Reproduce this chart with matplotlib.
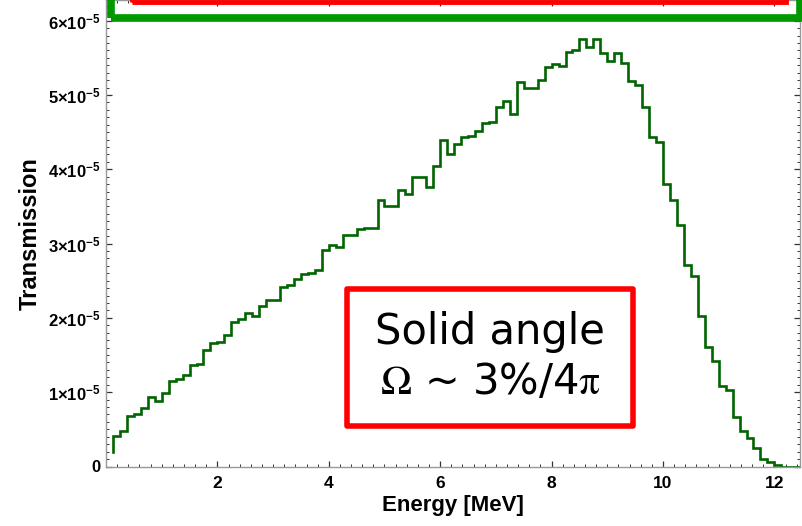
import numpy as np
import matplotlib
matplotlib.use('Agg')
import matplotlib.pyplot as plt
from matplotlib.ticker import MultipleLocator, FuncFormatter
from matplotlib.patches import Rectangle

plt.rcParams['font.family'] = ['Liberation Sans', 'DejaVu Sans']
plt.rcParams['mathtext.fontset'] = 'custom'
plt.rcParams['mathtext.rm'] = 'Liberation Sans:bold'
plt.rcParams['mathtext.it'] = 'Liberation Sans:bold'
plt.rcParams['mathtext.bf'] = 'Liberation Sans:bold'

# histogram, 0.125 MeV bins starting at 0.125 MeV, transmission in units of 1e-5
bin_width = 0.125
first_edge = 0.125
start_level = 0.20
transmission = [
    0.41, 0.48, 0.68, 0.70, 0.79, 0.93, 0.88, 0.985, 1.155, 1.18,
    1.23, 1.37, 1.38, 1.57, 1.66, 1.68, 1.77, 1.94, 1.98, 2.07,
    2.02, 2.16, 2.24, 2.24, 2.42, 2.44, 2.53, 2.59, 2.61, 2.645,
    2.91, 2.98, 2.95, 3.11, 3.12, 3.20, 3.21, 3.21, 3.59, 3.51,
    3.51, 3.72, 3.67, 3.89, 3.89, 3.76, 4.04, 4.40, 4.21, 4.34,
    4.43, 4.45, 4.51, 4.62, 4.64, 4.84, 4.92, 4.74, 5.18, 5.09,
    5.10, 5.20, 5.38, 5.42, 5.39, 5.58, 5.60, 5.76, 5.64, 5.75,
    5.57, 5.46, 5.57, 5.43, 5.19, 5.14, 4.84, 4.44, 4.37, 3.80,
    3.59, 3.25, 2.71, 2.56, 2.03, 1.61, 1.42, 1.08, 1.03, 0.66,
    0.48, 0.39, 0.25, 0.10, 0.055, 0.025, 0.0, 0.0, 0.0,
]
scale = 1e-5

xticks = [2, 4, 6, 8, 10, 12]
yticks = [0, 1, 2, 3, 4, 5, 6]

vals = np.array(transmission) * scale
edges = first_edge + bin_width * np.arange(len(vals) + 1)
xs = np.concatenate([[edges[0]], np.repeat(edges, 2)[1:-1]])
ys = np.concatenate([[start_level * scale], np.repeat(vals, 2)])

W, H = 802, 526
fig = plt.figure(figsize=(W / 100, H / 100), dpi=100)
ax = fig.add_axes([106 / W, (H - 466.5) / H, 694 / W, 466.5 / H])

ax.plot(xs, ys, color='#006400', lw=1.9, solid_joinstyle='miter')

ax.set_xlim(0, 12.46)
ax.set_ylim(0, 466.5 / 74.3 * scale)

ax.set_xticks(xticks)
ax.xaxis.set_minor_locator(MultipleLocator(0.2))
ax.set_yticks([v * scale for v in yticks])
ax.yaxis.set_minor_locator(MultipleLocator(0.1 * scale))

def yfmt(v, pos):
    m = int(round(v / scale))
    if m == 0:
        return '0'
    return r'$%d{\times}10^{-5}$' % m

ax.yaxis.set_major_formatter(FuncFormatter(yfmt))

ax.tick_params(which='both', direction='in', top=True, right=True, colors='#333333')
ax.tick_params(which='major', length=4.5, width=0.9)
ax.tick_params(which='minor', length=2.5, width=0.7)
ax.tick_params(axis='x', labelsize=12.5, pad=7, labelcolor='black')
ax.tick_params(axis='y', labelsize=12, pad=4, labelcolor='black')
for lab in ax.get_xticklabels() + ax.get_yticklabels():
    lab.set_fontweight('bold')
for sp in ax.spines.values():
    sp.set_color('#999999')
    sp.set_linewidth(1.0)

ax.set_xlabel('Energy [MeV]', fontsize=16, fontweight='bold', labelpad=3)
ax.set_ylabel('Transmission', fontsize=17, fontweight='bold')
ax.yaxis.set_label_coords(-0.092, 0.5)

# overlay boxes from the slide
def fx(px):
    return px / W

def fy(py):
    return 1 - py / H

fig.add_artist(Rectangle((fx(111), fy(17.5)), fx(800) - fx(111), fy(-60) - fy(17.5),
                         transform=fig.transFigure, fill=False, ec='#009900', lw=5.5,
                         clip_on=False))
fig.add_artist(Rectangle((fx(132), fy(2)), fx(786) - fx(132), fy(-60) - fy(2),
                         transform=fig.transFigure, fill=False, ec='#ff0000', lw=3.5,
                         clip_on=False))
fig.add_artist(Rectangle((fx(347), fy(426)), fx(633) - fx(347), fy(289) - fy(426),
                         transform=fig.transFigure, fc='white', ec='#ff0000', lw=4,
                         joinstyle='round'))
fig.text(fx(490), fy(357), 'Solid angle\n$\\mathrm{\\Omega}$ ~ 3%/4$\\mathrm{\\pi}$',
         ha='center', va='center', fontsize=30, family='DejaVu Sans',
         math_fontfamily='stix', linespacing=1.25)

fig.savefig('out.png', dpi=100)
